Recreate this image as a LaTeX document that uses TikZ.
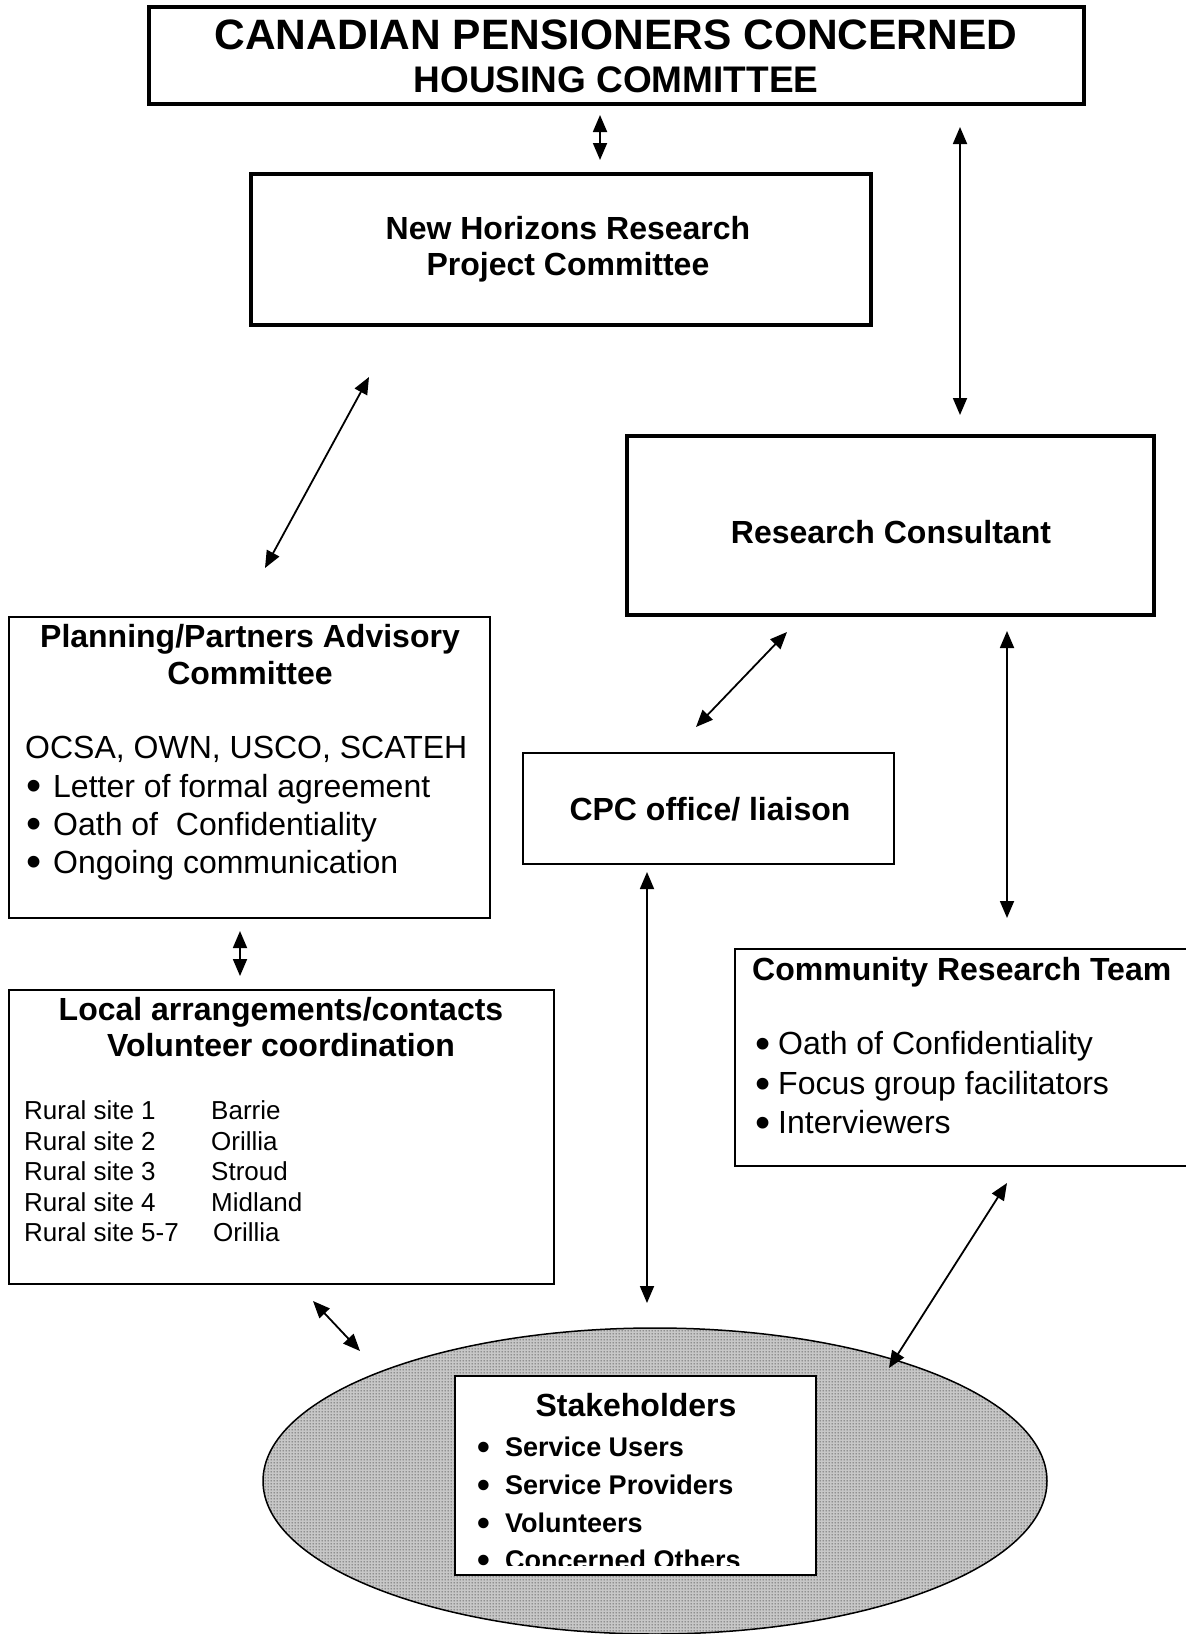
\documentclass[tikz,border=0pt]{standalone}
\usepackage{fontspec}
\setmainfont{Liberation Sans}
\usetikzlibrary{arrows.meta,patterns,shapes.geometric}
\pgfdeclarepatternformonly{stakedots}{\pgfpointorigin}{\pgfpoint{3pt}{3pt}}{\pgfpoint{3pt}{3pt}}{\pgfpathcircle{\pgfpoint{1.5pt}{1.5pt}}{0.9pt}\pgfusepath{fill}}
\newcommand{\dotmark}{\raisebox{-0.12em}[0pt][0pt]{\scalebox{1.35}{\textbullet}}}
\begin{document}
\begin{tikzpicture}[x=1pt,y=-1pt,
    box/.style={draw,line width=2pt,inner sep=0pt},
    heavybox/.style={draw,line width=3.5pt,inner sep=0pt},
    head/.style={inner sep=0pt,align=center,font=\fontsize{32}{36.5}\selectfont\bfseries},
    plain/.style={inner sep=0pt,anchor=base west,font=\fontsize{32}{38}\selectfont},
    site/.style={inner sep=0pt,anchor=base west,font=\fontsize{26}{30}\selectfont},
    group/.style={inner sep=0pt,anchor=base west,font=\fontsize{27}{32}\selectfont\bfseries},
    link/.style={{Triangle[length=17pt,width=14pt]}-{Triangle[length=17pt,width=14pt]},line width=1.8pt}]
\useasboundingbox (0,0) rectangle (1186,1634);
\node[heavybox,line width=4pt,minimum width=935pt,minimum height=97pt] (cpc) at (616.5,55.5) {};
\node[inner sep=0pt,font=\fontsize{42.5}{46}\selectfont\bfseries] (cpcname) at (616,35) {CANADIAN PENSIONERS CONCERNED};
\node[inner sep=0pt,font=\fontsize{37}{42}\selectfont\bfseries] (cpcgroup) at (616,80) {HOUSING COMMITTEE};
\node[heavybox,minimum width=620pt,minimum height=151pt] (horizons) at (561,249.5) {};
\node[head] (horizonstext) at (568,249) {New Horizons Research\\Project Committee};
\node[heavybox,minimum width=527pt,minimum height=179pt] (consultant) at (890.5,525.5) {};
\node[head] (consultanttext) at (891,532) {Research Consultant};
\node[box,minimum width=481pt,minimum height=301pt] (planning) at (249.5,767.5) {};
\node[head] (planningtitle) at (250,654.5) {Planning/Partners Advisory\\Committee};
\node[plain] (partners) at (25,758.5) {OCSA, OWN, USCO, SCATEH};
\node[plain] (letter) at (26,797) {\makebox[27pt][l]{\dotmark}Letter of formal agreement};
\node[plain] (oath) at (26,835) {\makebox[27pt][l]{\dotmark}Oath of\ \ Confidentiality};
\node[plain] (ongoing) at (26,873) {\makebox[27pt][l]{\dotmark}Ongoing communication};
\node[box,minimum width=371pt,minimum height=111pt] (office) at (708.5,808.5) {};
\node[head] (officetext) at (710,809) {CPC office/ liaison};
\node[box,minimum width=545pt,minimum height=294pt] (local) at (281.5,1137) {};
\node[head] (localtitle) at (281,1027) {Local arrangements/contacts\\Volunteer coordination};
\node[site] (site1) at (24,1119.5) {Rural site 1};
\node[site] (town1) at (211,1119.5) {Barrie};
\node[site] (site2) at (24,1150) {Rural site 2};
\node[site] (town2) at (211,1150) {Orillia};
\node[site] (site3) at (24,1180.5) {Rural site 3};
\node[site] (town3) at (211,1180.5) {Stroud};
\node[site] (site4) at (24,1211) {Rural site 4};
\node[site] (town4) at (211,1211) {Midland};
\node[site] (site5) at (24,1241.5) {Rural site 5-7};
\node[site] (town5) at (213,1241.5) {Orillia};
\node[box,minimum width=465pt,minimum height=217pt] (team) at (967.5,1057.5) {};
\node[plain,font=\fontsize{32}{38}\selectfont\bfseries] (teamtitle) at (752,980.5) {Community Research Team};
\node[plain] (teamoath) at (755,1054.5) {\makebox[23pt][l]{\dotmark}Oath of Confidentiality};
\node[plain] (teamfocus) at (755,1094.5) {\makebox[23pt][l]{\dotmark}Focus group facilitators};
\node[plain] (teaminter) at (755,1133.5) {\makebox[23pt][l]{\dotmark}Interviewers};
\node[draw,ellipse,line width=1.5pt,minimum width=784pt,minimum height=306pt,preaction={fill=black!22},pattern=stakedots,pattern color=black!65] (stakeholders) at (655,1481) {};
\node[box,fill=white,minimum width=361pt,minimum height=199pt] (stakebox) at (635.5,1475.5) {};
\node[head] (staketitle) at (636,1405) {Stakeholders};
\node[group] (users) at (477,1456) {\makebox[28pt][l]{\dotmark}Service Users};
\node[group] (providers) at (477,1494) {\makebox[28pt][l]{\dotmark}Service Providers};
\node[group] (volunteers) at (477,1532) {\makebox[28pt][l]{\dotmark}Volunteers};
\begin{scope}
\clip (456,1377) rectangle (815,1565);
\node[group] (others) at (477,1569) {\makebox[28pt][l]{\dotmark}Concerned Others};
\end{scope}
\coordinate (a1s) at (600,115);
\coordinate (a1e) at (600,160);
\coordinate (a2s) at (960,127);
\coordinate (a2e) at (960,415);
\coordinate (a3s) at (369,377);
\coordinate (a3e) at (265,568);
\coordinate (a4s) at (787,632);
\coordinate (a4e) at (696,727);
\coordinate (a5s) at (1007,631);
\coordinate (a5e) at (1007,918);
\coordinate (a6s) at (240,931);
\coordinate (a6e) at (240,976);
\coordinate (a7s) at (647,872);
\coordinate (a7e) at (647,1303);
\coordinate (a8s) at (313,1301);
\coordinate (a8e) at (360,1351);
\coordinate (a9s) at (1007,1183);
\coordinate (a9e) at (889,1368);
\draw[link] (a1s) -- (a1e);
\draw[link] (a2s) -- (a2e);
\draw[link] (a3s) -- (a3e);
\draw[link] (a4s) -- (a4e);
\draw[link] (a5s) -- (a5e);
\draw[link] (a6s) -- (a6e);
\draw[link] (a7s) -- (a7e);
\draw[link] (a8s) -- (a8e);
\draw[link] (a9s) -- (a9e);
\end{tikzpicture}
\end{document}
